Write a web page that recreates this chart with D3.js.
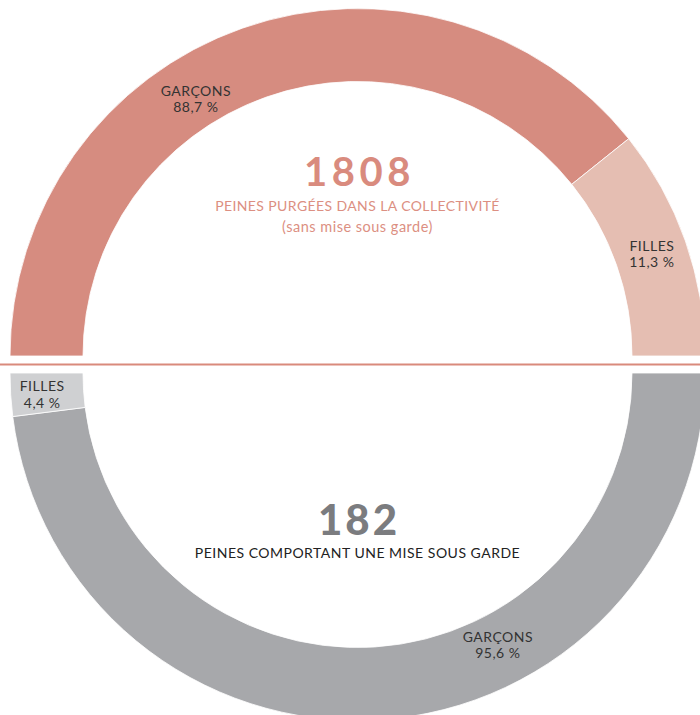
<!DOCTYPE html>
<html>
<head>
<meta charset="utf-8">
<script src="https://cdn.jsdelivr.net/npm/d3@7"></script>
<style>
  body { margin: 0; background: #fff; }
  svg text { font-family: Lato, "Noto Sans", sans-serif; }
</style>
</head>
<body>
<div id="chart"></div>
<script>
// ___________________________Data_______________________________
const categories = ["GARÇONS", "FILLES"];
// shares shown on the labels
const topPct = [88.7, 11.3];
const bottomPct = [95.6, 4.4];
// arc sizes as drawn in the picture
const topArc = [78.5, 21.5];
const bottomArc = [96.0, 4.0];
const topTotal = 1808;
const bottomTotal = 182;
const topTitle = "PEINES PURGÉES DANS LA COLLECTIVITÉ";
const topSub = "(sans mise sous garde)";
const bottomTitle = "PEINES COMPORTANT UNE MISE SOUS GARDE";

const width = 700, height = 715;
const cx = 357.5;
const outerR = 347.5, innerR = 274.5;
const topCy = 356, bottomCy = 373;

const topColors = ["#d68c80", "#e5beb2"];
const bottomColors = ["#a7a8ab", "#cfd0d2"];

const fmt = v => d3.format(".1f")(v).replace(".", ",") + " %";

const svg = d3.select("#chart")
    .append("svg")
    .attr("width", width)
    .attr("height", height);

const arc = d3.arc().innerRadius(innerR).outerRadius(outerR);

function halfDonut(cy, values, pct, colors, start, end, labelAngles, labelRadius) {
    const pie = d3.pie().sort(null).startAngle(start).endAngle(end);
    const g = svg.append("g").attr("transform", "translate(" + cx + "," + cy + ")");
    const arcs = pie(values);

    g.selectAll("path")
        .data(arcs)
        .enter()
        .append("path")
        .attr("d", arc)
        .attr("fill", (d, i) => colors[i])
        .attr("stroke", "#fff")
        .attr("stroke-width", 0.8);

    // labels
    arcs.forEach((d, i) => {
        let a = labelAngles[i] != null ? labelAngles[i] : (d.startAngle + d.endAngle) / 2;
        const r = labelRadius[i];
        const [x, y] = d3.arc().innerRadius(r).outerRadius(r)
            .centroid({ startAngle: a, endAngle: a });
        const t = g.append("text")
            .attr("x", x)
            .attr("y", y)
            .attr("text-anchor", "middle")
            .style("font-size", "14px")
            .style("letter-spacing", "0.5px")
            .attr("fill", "#333");
        t.append("tspan").attr("x", x).attr("dy", "-0.1em").text(categories[i]);
        t.append("tspan").attr("x", x).attr("dy", "1.15em").text(fmt(pct[i]));
    });
    return g;
}

const deg = Math.PI / 180;
halfDonut(topCy, topArc, topPct, topColors, -Math.PI / 2, Math.PI / 2, [-32 * deg, null], [305, 312]);
halfDonut(bottomCy, bottomArc, bottomPct, bottomColors, Math.PI / 2, 3 * Math.PI / 2, [152.6 * deg, null], [305, 316]);

// separator line
svg.append("line")
    .attr("x1", 0).attr("x2", width)
    .attr("y1", 364.5).attr("y2", 364.5)
    .attr("stroke", "#d98a7c")
    .attr("stroke-width", 2);

// centre texts - top
svg.append("text")
    .attr("x", cx + 2).attr("y", 186)
    .attr("text-anchor", "middle")
    .style("font-size", "40px")
    .style("font-weight", "bold")
    .style("letter-spacing", "4.5px")
    .attr("fill", "#d98b7e")
    .text(topTotal);

svg.append("text")
    .attr("x", cx).attr("y", 211)
    .attr("text-anchor", "middle")
    .style("font-size", "14px")
    .style("letter-spacing", "0.4px")
    .attr("fill", "#dc8f82")
    .text(topTitle);

svg.append("text")
    .attr("x", cx).attr("y", 232)
    .attr("text-anchor", "middle")
    .style("font-size", "14.5px")
    .style("letter-spacing", "0.5px")
    .attr("fill", "#dc8f82")
    .text(topSub);

// centre texts - bottom
svg.append("text")
    .attr("x", cx + 1.5).attr("y", 535)
    .attr("text-anchor", "middle")
    .style("font-size", "42px")
    .style("font-weight", "900")
    .style("letter-spacing", "3px")
    .attr("fill", "#7b7c7f")
    .text(bottomTotal);

svg.append("text")
    .attr("x", cx).attr("y", 558)
    .attr("text-anchor", "middle")
    .style("font-size", "14px")
    .style("letter-spacing", "0.5px")
    .attr("fill", "#222")
    .text(bottomTitle);
</script>
</body>
</html>
